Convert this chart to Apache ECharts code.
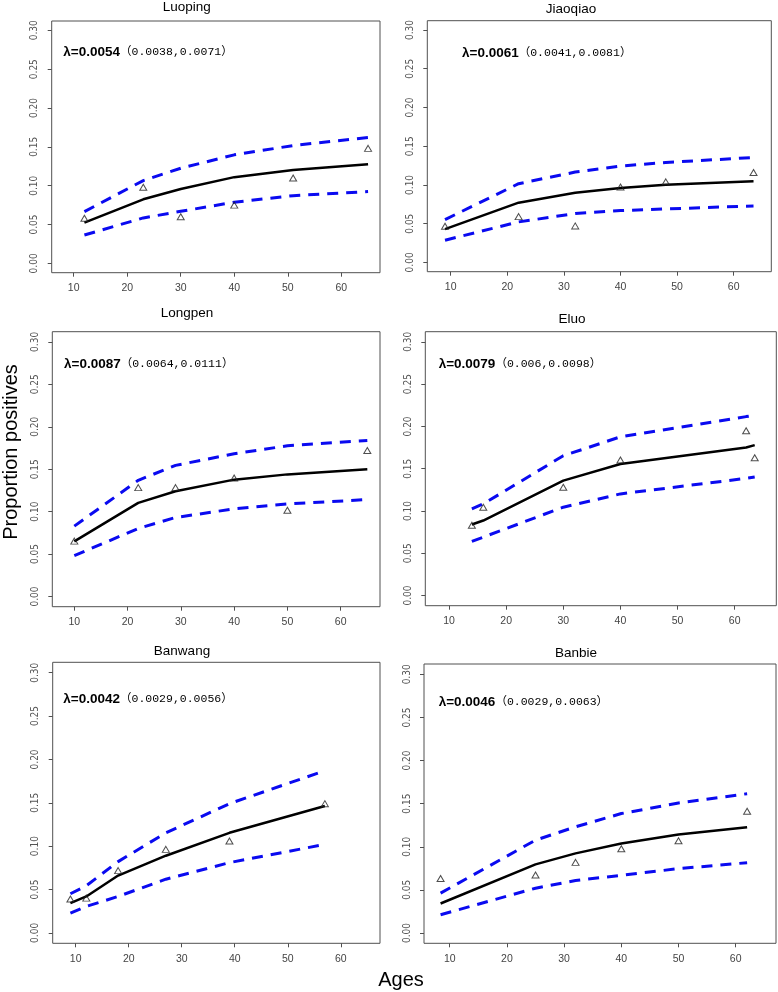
<!DOCTYPE html>
<html>
<head>
<meta charset="utf-8">
<script src="https://cdn.jsdelivr.net/npm/echarts@6/dist/echarts.min.js"></script>
<style>
html,body{margin:0;padding:0;background:#fff;}
#chart{width:778px;height:992px;}
</style>
</head>
<body>
<div id="chart"></div>
<script>
// ---- data ----
const panelNames = ['Luoping', 'Jiaoqiao', 'Longpen', 'Eluo', 'Banwang', 'Banbie'];
const lambdaText = ['λ=0.0054', 'λ=0.0061', 'λ=0.0087', 'λ=0.0079', 'λ=0.0042', 'λ=0.0046'];
const ciText = ['（0.0038,0.0071）', '（0.0041,0.0081）', '（0.0064,0.0111）', '（0.006,0.0098）', '（0.0029,0.0056）', '（0.0029,0.0063）'];
const xTicks = [10, 20, 30, 40, 50, 60];
const yTicks = [0, 0.05, 0.10, 0.15, 0.20, 0.25, 0.30];

const luopingAges = [12, 23, 30, 40, 51, 65];
const luopingObs  = [0.058, 0.098, 0.060, 0.075, 0.110, 0.148];
const luopingFit  = [0.0524, 0.0825, 0.0958, 0.111, 0.1203, 0.1277];
const luopingUp   = [0.0666, 0.1066, 0.1225, 0.1397, 0.1517, 0.162];
const luopingLow  = [0.0365, 0.0585, 0.067, 0.0787, 0.0872, 0.0924];

const jiaoqiaoAges = [9, 22, 32, 40, 48, 63.5];
const jiaoqiaoObs  = [0.0467, 0.0591, 0.0471, 0.0973, 0.104, 0.116];
const jiaoqiaoFit  = [0.0429, 0.0771, 0.090, 0.096, 0.1003, 0.1046];
const jiaoqiaoUp   = [0.0553, 0.1016, 0.1166, 0.1243, 0.129, 0.1354];
const jiaoqiaoLow  = [0.0287, 0.0523, 0.063, 0.0669, 0.069, 0.0729];

const longpenAges = [10, 22, 29, 40, 50, 65];
const longpenObs  = [0.0653, 0.1283, 0.1283, 0.1396, 0.1017, 0.1721];
const longpenFit  = [0.065, 0.1103, 0.124, 0.1377, 0.1439, 0.1498];
const longpenUp   = [0.0829, 0.1369, 0.1545, 0.1682, 0.1776, 0.1838];
const longpenLow  = [0.0481, 0.0802, 0.0931, 0.1033, 0.1091, 0.1142];

const eluoAges = [14, 16, 30, 40, 62, 63.5];
const eluoObs  = [0.0832, 0.1045, 0.128, 0.1602, 0.1948, 0.163];
const eluoFit  = [0.084, 0.0887, 0.1359, 0.1555, 0.175, 0.1779];
const eluoUp   = [0.1025, 0.1084, 0.1653, 0.1877, 0.2116, 0.2132];
const eluoLow  = [0.064, 0.0691, 0.1045, 0.1202, 0.1386, 0.1402];

const banwangAges = [9, 12, 18, 27, 39, 57];
const banwangObs  = [0.039, 0.0401, 0.0718, 0.0963, 0.1059, 0.149];
const banwangFit  = [0.0344, 0.042, 0.0661, 0.089, 0.1154, 0.1464];
const banwangUp   = [0.0451, 0.0543, 0.0822, 0.1154, 0.149, 0.187];
const banwangLow  = [0.0229, 0.0306, 0.042, 0.0619, 0.081, 0.102];

const banbieAges = [8.4, 25, 32, 40, 50, 62];
const banbieObs  = [0.0631, 0.0673, 0.0819, 0.0977, 0.1069, 0.1412];
const banbieFit  = [0.0342, 0.0796, 0.0923, 0.1038, 0.1142, 0.1227];
const banbieUp   = [0.0462, 0.1077, 0.1231, 0.1385, 0.1508, 0.1615];
const banbieLow  = [0.0212, 0.0519, 0.0608, 0.0669, 0.0746, 0.0815];

const panelData = [
  [luopingAges, luopingObs, luopingFit, luopingUp, luopingLow],
  [jiaoqiaoAges, jiaoqiaoObs, jiaoqiaoFit, jiaoqiaoUp, jiaoqiaoLow],
  [longpenAges, longpenObs, longpenFit, longpenUp, longpenLow],
  [eluoAges, eluoObs, eluoFit, eluoUp, eluoLow],
  [banwangAges, banwangObs, banwangFit, banwangUp, banwangLow],
  [banbieAges, banbieObs, banbieFit, banbieUp, banbieLow]
];

// ---- layout ----
const layout = [
  {left: 51.7, top: 21,    width: 328.3, height: 251.7, xmin: 5.89, xmax: 67.23, tx: 186.7, ty: 7,   lx: 63.3,  ly: 52.3},
  {left: 427.3, top: 20.7, width: 344,   height: 251,   xmin: 5.87, xmax: 66.64, tx: 571,   ty: 9,   lx: 462,   ly: 53.3},
  {left: 52.3, top: 331.7, width: 327.7, height: 275,   xmin: 5.87, xmax: 67.38, tx: 187,   ty: 313, lx: 64,    ly: 364.3},
  {left: 425.3, top: 331.7,width: 351,   height: 274,   xmin: 5.85, xmax: 67.28, tx: 572,   ty: 319, lx: 438.7, ly: 364.3},
  {left: 52.7, top: 662.3, width: 327.3, height: 281,   xmin: 5.66, xmax: 67.4,  tx: 182,   ty: 651, lx: 63.3,  ly: 699.3},
  {left: 424,  top: 664,   width: 352,   height: 279.3, xmin: 5.5,  xmax: 67.05, tx: 576,   ty: 653, lx: 438.7, ly: 702.3}
];

const grids = [], xAxes = [], yAxes = [], series = [], titles = [], graphics = [];
const BLUE = '#0a0af0';

layout.forEach((L, i) => {
  grids.push({left: L.left, top: L.top, width: L.width, height: L.height, show: true,
    borderColor: '#505050', borderWidth: 1, backgroundColor: 'transparent', containLabel: false});
  xAxes.push({
    gridIndex: i, type: 'value', min: L.xmin, max: L.xmax, position: 'bottom',
    axisLine: {show: false, onZero: false}, splitLine: {show: false},
    axisTick: {show: true, inside: false, length: 4, customValues: xTicks, lineStyle: {color: '#505050', width: 1}},
    axisLabel: {customValues: xTicks, fontSize: 10.5, color: '#444', margin: 10, fontFamily: "'Liberation Sans', Arial, sans-serif"}
  });
  yAxes.push({
    gridIndex: i, type: 'value', min: -0.012, max: 0.312, position: 'left',
    axisLine: {show: false, onZero: false}, splitLine: {show: false},
    axisTick: {show: true, inside: false, length: 4, customValues: yTicks, lineStyle: {color: '#505050', width: 1}},
    axisLabel: {customValues: yTicks, rotate: 90, fontSize: 10, color: '#555', margin: 12,
      fontFamily: "'Liberation Sans Narrow', 'DejaVu Sans Condensed', 'Liberation Sans', sans-serif",
      formatter: v => v.toFixed(2)}
  });
  const [ages, obs, fit, up, low] = panelData[i];
  const pairs = arr => ages.map((a, k) => [a, arr[k]]);
  series.push({type: 'line', xAxisIndex: i, yAxisIndex: i, data: pairs(up), symbol: 'none', silent: true,
    lineStyle: {color: BLUE, width: 3, type: [11, 8]}, z: 2});
  series.push({type: 'line', xAxisIndex: i, yAxisIndex: i, data: pairs(low), symbol: 'none', silent: true,
    lineStyle: {color: BLUE, width: 3, type: [11, 8]}, z: 2});
  series.push({type: 'line', xAxisIndex: i, yAxisIndex: i, data: pairs(fit), symbol: 'none', silent: true,
    lineStyle: {color: '#000', width: 2.5}, z: 3});
  series.push({type: 'scatter', xAxisIndex: i, yAxisIndex: i, data: pairs(obs), symbol: 'triangle', symbolSize: [7, 6], silent: true,
    itemStyle: {color: 'rgba(255,255,255,0)', borderColor: '#222', borderWidth: 1}, z: 4});

  graphics.push({type: 'text', x: L.tx, y: L.ty, style: {text: panelNames[i], fill: '#000',
    font: '13.5px "Liberation Sans", Arial, sans-serif', textAlign: 'center', textVerticalAlign: 'middle'}});
  titles.push({
    text: '{a|' + lambdaText[i] + '}{b|' + ciText[i] + '}',
    left: L.lx, top: L.ly - 8, padding: 0,
    textStyle: {fontWeight: 'normal', rich: {
      a: {fontFamily: "'Liberation Sans', Arial, sans-serif", fontWeight: 'bold', fontSize: 13.5, color: '#000', lineHeight: 16},
      b: {fontFamily: "'Liberation Mono', 'Noto Sans CJK SC', monospace", fontWeight: 'normal', fontSize: 11.5, color: '#000', lineHeight: 16}
    }}
  });
});

graphics.push({type: 'text', x: 11, y: 452, rotation: Math.PI / 2,
  style: {text: 'Proportion positives', fill: '#000', font: '20px "Liberation Sans", Arial, sans-serif',
    textAlign: 'center', textVerticalAlign: 'middle'}});
graphics.push({type: 'text', x: 401, y: 980,
  style: {text: 'Ages', fill: '#000', font: '20px "Liberation Sans", Arial, sans-serif',
    textAlign: 'center', textVerticalAlign: 'middle'}});

const chart = echarts.init(document.getElementById('chart'), null, {renderer: 'canvas'});
chart.setOption({
  animation: false,
  backgroundColor: '#fff',
  title: titles,
  grid: grids,
  xAxis: xAxes,
  yAxis: yAxes,
  series: series,
  graphic: graphics
});
</script>
</body>
</html>
